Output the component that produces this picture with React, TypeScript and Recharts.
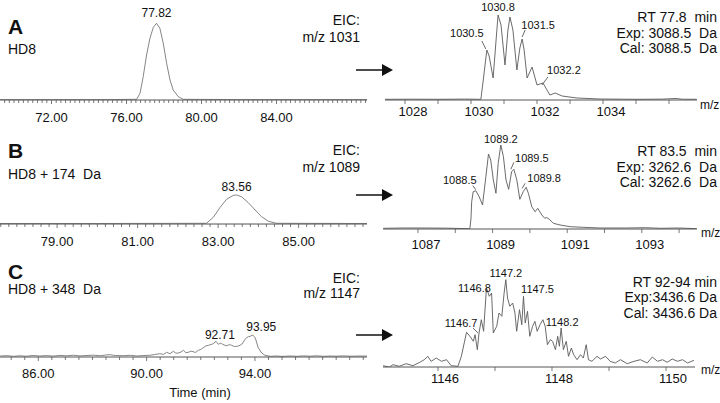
import React from 'react'
import { LineChart, Line, XAxis, YAxis, ReferenceDot } from 'recharts'

type Pt = [number, number]

// extracted ion chromatograms: [time (min), intensity]
const eicA: Pt[] = [
  [69.25, 0.4], [72.0, 0.4], [75.0, 0.4], [76.54, 0.7], [76.72, 6.7], [76.89, 23.3], [77.07, 45], [77.25, 61.7],
  [77.43, 72.7], [77.6, 76.7], [77.78, 71.7], [77.96, 56.7], [78.14, 36.7], [78.32, 20], [78.49, 10],
  [78.76, 3.3], [79.03, 0.7], [82.0, 0.4], [88.83, 0.4],
]
const eicB: Pt[] = [
  [77.58, 0.5], [80.0, 0.5], [82.71, 0.7], [82.88, 6.7], [83.05, 16.7], [83.21, 24.7], [83.38, 28.7],
  [83.46, 29], [83.58, 27.3], [83.75, 21.3], [83.92, 14], [84.08, 7.3], [84.25, 2.7], [84.45, 0.7], [86.7, 0.5],
]
const eicC: Pt[] = [
  [84.59, 1.0], [84.85, 1.3], [85.08, 0.7], [85.3, 1.2], [85.57, 0.8], [85.8, 1.5], [86.06, 1.0], [86.3, 1.4],
  [86.55, 0.9], [86.8, 1.6], [87.05, 1.2], [87.3, 1.8], [87.54, 1.1], [87.8, 1.5], [88.03, 1.8], [88.3, 1.3],
  [88.5, 2.0], [88.65, 2.3], [88.85, 1.5], [89.14, 1.3], [89.4, 1.7], [89.63, 1.0], [89.9, 1.5], [90.12, 1.7],
  [90.3, 2.5], [90.49, 3.3], [90.62, 2.6], [90.74, 4.7], [90.86, 3.3], [90.99, 5.7], [91.08, 3.8], [91.17, 4.0],
  [91.27, 5.0], [91.36, 6.7], [91.45, 4.3], [91.54, 4.7], [91.63, 5.8], [91.72, 5.3], [91.81, 4.5], [91.91, 6.7],
  [92.0, 7.5], [92.09, 9.3], [92.18, 11.0], [92.28, 11.7], [92.38, 12.5], [92.46, 13.3], [92.56, 15.7],
  [92.65, 12.7], [92.72, 13.8], [92.77, 13.3], [92.86, 12.0], [92.96, 11.3], [93.05, 12.4], [93.14, 11.7],
  [93.24, 10.5], [93.33, 10.7], [93.4, 11.2], [93.45, 11.7], [93.52, 13.0], [93.57, 15.0], [93.63, 17.5],
  [93.69, 19.3], [93.76, 20.3], [93.82, 20.7], [93.9, 21.7], [93.94, 21.5], [94.0, 19.5], [94.04, 16.7],
  [94.12, 9.3], [94.25, 4.0], [94.37, 1.7], [94.56, 0.7], [94.8, 1.0], [95.0, 0.6], [95.29, 1.0], [95.55, 0.7],
  [95.79, 1.1], [96.05, 0.8], [96.28, 1.2], [96.55, 0.7], [96.77, 1.0], [97.0, 0.8], [97.26, 1.1], [97.55, 0.8],
  [97.88, 1.0], [98.14, 0.9],
]

// mass spectra: [m/z, intensity]
const msA: Pt[] = [
  [1027.39, 0.7], [1028.2, 0.8], [1029.06, 0.7], [1029.8, 0.9], [1030.3, 0.7], [1030.39, 25], [1030.48, 50],
  [1030.55, 44], [1030.67, 22], [1030.76, 60], [1030.82, 85], [1030.91, 75], [1031.03, 35], [1031.12, 70],
  [1031.18, 83], [1031.27, 70], [1031.39, 30], [1031.48, 52], [1031.55, 61], [1031.61, 50], [1031.7, 22],
  [1031.85, 33], [1032.0, 15], [1032.18, 17], [1032.39, 5], [1032.55, 7], [1032.76, 4], [1033.21, 2],
  [1033.91, 1], [1034.6, 0.8], [1035.12, 0.7], [1035.8, 0.9], [1036.21, 1.5], [1036.4, 0.8], [1036.84, 0.7],
]
const msB: Pt[] = [
  [1086.07, 0.7], [1086.6, 1.0], [1087.23, 1.0], [1087.8, 0.8], [1088.39, 0.3], [1088.42, 10], [1088.44, 27.3],
  [1088.48, 37.3], [1088.55, 38.3], [1088.64, 32.3], [1088.73, 24], [1088.82, 52.3], [1088.89, 75],
  [1088.95, 69], [1089.02, 49], [1089.09, 35.7], [1089.15, 65.7], [1089.22, 84], [1089.29, 72.3],
  [1089.36, 49], [1089.43, 39.7], [1089.51, 57.3], [1089.57, 59.7], [1089.65, 49], [1089.73, 29.7],
  [1089.82, 37.3], [1089.9, 41.7], [1089.96, 35.7], [1090.05, 22.3], [1090.14, 17.3], [1090.21, 20.7],
  [1090.32, 14], [1090.4, 10.7], [1090.45, 11.5], [1090.52, 9.7], [1090.63, 5.7], [1090.81, 4], [1091.08, 2.3],
  [1091.43, 1.7], [1091.88, 1], [1092.6, 1], [1093.1, 1.3], [1093.49, 0.7], [1094.0, 1.0], [1094.47, 0.3],
]
const msC: Pt[] = [
  [1145.03, 1.3], [1145.15, 0], [1145.21, 2.3], [1145.32, 0.7], [1145.44, 3.3], [1145.56, 1.3], [1145.68, 4.7],
  [1145.76, 7.3], [1145.82, 10.7], [1145.88, 5.7], [1145.97, 9], [1146.06, 5.7], [1146.15, 7.3], [1146.23, 1.3],
  [1146.35, 0.7], [1146.41, 10.7], [1146.5, 34.7], [1146.56, 30.7], [1146.62, 25.7], [1146.65, 32.3],
  [1146.69, 17.3], [1146.72, 34], [1146.76, 47.3], [1146.8, 35.7], [1146.85, 79], [1146.9, 70.7], [1146.94, 74],
  [1146.97, 34], [1147.03, 40.7], [1147.07, 54], [1147.12, 50.7], [1147.16, 74], [1147.19, 87.3], [1147.22, 69],
  [1147.26, 60.7], [1147.31, 64], [1147.35, 54], [1147.38, 35.7], [1147.43, 57.3], [1147.47, 42.3],
  [1147.5, 70.7], [1147.53, 44], [1147.57, 55.7], [1147.61, 30.7], [1147.66, 40.7], [1147.7, 45.7],
  [1147.74, 35.7], [1147.79, 42.3], [1147.84, 47.3], [1147.88, 40.7], [1147.92, 22.3], [1147.97, 27.3],
  [1148.01, 25.7], [1148.06, 17.3], [1148.1, 30.7], [1148.13, 20.7], [1148.16, 39], [1148.2, 17.3],
  [1148.25, 25.7], [1148.29, 10.7], [1148.34, 19], [1148.38, 12.3], [1148.44, 7.3], [1148.5, 12.3],
  [1148.55, 9], [1148.6, 22.3], [1148.64, 7.3], [1148.7, 5.7], [1148.79, 10.7], [1148.85, 8], [1148.94, 10.7],
  [1149.02, 5.7], [1149.11, 4], [1149.2, 7.3], [1149.32, 3.3], [1149.44, 5.7], [1149.55, 7.3], [1149.67, 4],
  [1149.76, 10], [1149.85, 5.7], [1149.94, 7.3], [1150.02, 4.7], [1150.11, 8], [1150.2, 5.7], [1150.29, 7.3],
  [1150.38, 4], [1150.49, 6.7],
]

// axis tick labels
const timeLabelsA = [72, 76, 80, 84]
const timeLabelsB = [79, 81, 83, 85]
const timeLabelsC = [86, 90, 94]
const mzLabelsA = [1028, 1030, 1032, 1034]
const mzLabelsB = [1087, 1089, 1091, 1093]
const mzLabelsC = [1146, 1148, 1150]

// peak annotations (anchored at data points)
type Peak = { x: number; y: number; text: string }
const eicPeaksA: Peak[] = [{ x: 77.6, y: 76.7, text: '77.82' }]
const eicPeaksB: Peak[] = [{ x: 83.46, y: 29, text: '83.56' }]
const eicPeaksC: Peak[] = [
  { x: 92.56, y: 15.7, text: '92.71' },
  { x: 93.9, y: 21.7, text: '93.95' },
]
const msPeaksA: Peak[] = [
  { x: 1030.82, y: 85, text: '1030.8' },
  { x: 1030.48, y: 50, text: '1030.5' },
  { x: 1031.55, y: 61, text: '1031.5' },
  { x: 1032.18, y: 17, text: '1032.2' },
]
const msPeaksB: Peak[] = [
  { x: 1089.22, y: 84, text: '1089.2' },
  { x: 1088.55, y: 38.3, text: '1088.5' },
  { x: 1089.57, y: 59.7, text: '1089.5' },
  { x: 1089.9, y: 41.7, text: '1089.8' },
]
const msPeaksC: Peak[] = [
  { x: 1147.19, y: 87.3, text: '1147.2' },
  { x: 1146.85, y: 79, text: '1146.8' },
  { x: 1147.5, y: 70.7, text: '1147.5' },
  { x: 1146.72, y: 34, text: '1146.7' },
  { x: 1148.16, y: 39, text: '1148.2' },
]

// label placement relative to the anchor: [dx, dy, leader?]
type Place = { dx: number; dy: number; lead?: [number, number, number, number] }
const eicPlaceA: Place[] = [{ dx: 0, dy: -6 }]
const eicPlaceB: Place[] = [{ dx: 0, dy: -4 }]
const eicPlaceC: Place[] = [{ dx: 4, dy: -2 }, { dx: 9, dy: -4 }]
const msPlaceA: Place[] = [
  { dx: 0, dy: -4 },
  { dx: -20, dy: -13, lead: [-5, -9, -1, -1] },
  { dx: 16, dy: -10, lead: [3, -9, 0, -2] },
  { dx: 21, dy: -9, lead: [5, -6, -1, 2] },
]
const msPlaceB: Place[] = [
  { dx: 0, dy: -2 },
  { dx: -16, dy: -7, lead: [-3, -5, 0, -1] },
  { dx: 18, dy: -7.5, lead: [0, -7, -3, 0] },
  { dx: 18, dy: -5.5, lead: [-1, -4, -4, 1] },
]
const msPlaceC: Place[] = [
  { dx: 0, dy: -3 },
  { dx: -12, dy: 4 },
  { dx: 14, dy: -3 },
  { dx: -18, dy: -6, lead: [-6, -5, -1, 0] },
  { dx: 1, dy: -2.5 },
]

const FONT = '"Liberation Sans", Arial, Helvetica, sans-serif'

interface PanelCfg {
  left: number
  top: number
  width: number
  plotH: number
  domain: [number, number]
  step: number
  labels: number[]
  digits: number
  labelDx: number
  labelDy: number
  majorLen: number
  minorLen: number
  peakFont: number
  stroke: string
}

function Panel({ cfg, data, peaks, place }: { cfg: PanelCfg; data: Pt[]; peaks: Peak[]; place: Place[] }) {
  const rows = data.map(([x, y]) => ({ x, y }))
  const ticks: number[] = []
  for (let v = Math.ceil(cfg.domain[0] / cfg.step) * cfg.step; v <= cfg.domain[1] + 1e-9; v += cfg.step) {
    ticks.push(Math.round(v * 1000) / 1000)
  }
  const renderTick = (p: any) => {
    const v = p.payload.value
    const major = cfg.labels.some((l) => Math.abs(l - v) < 1e-6)
    return (
      <g>
        <line x1={p.x} x2={p.x} y1={p.y} y2={p.y + (major ? cfg.majorLen : cfg.minorLen)} stroke="#555" strokeWidth={0.8} />
        {major && (
          <text x={p.x + cfg.labelDx} y={p.y + cfg.labelDy} textAnchor="middle" fontSize={13} fill="#111" fontFamily={FONT}>
            {v.toFixed(cfg.digits)}
          </text>
        )}
      </g>
    )
  }
  return (
    <div style={{ position: 'absolute', left: cfg.left, top: cfg.top }}>
      <LineChart width={cfg.width} height={cfg.plotH + 30} data={rows} margin={{ top: 0, right: 0, bottom: 0, left: 0 }}>
        <XAxis
          dataKey="x"
          type="number"
          domain={cfg.domain}
          allowDataOverflow
          ticks={ticks}
          interval={0}
          tick={renderTick}
          tickLine={false}
          tickSize={0}
          tickMargin={0}
          height={30}
          axisLine={{ stroke: '#555', strokeWidth: 1 }}
        />
        <YAxis hide type="number" domain={[0, cfg.plotH]} allowDataOverflow />
        <Line type="linear" dataKey="y" stroke={cfg.stroke} strokeWidth={0.9} dot={false} isAnimationActive={false} />
        {peaks.map((pk, i) => {
          const st = place[i]
          return (
            <ReferenceDot
              key={i}
              x={pk.x}
              y={pk.y}
              r={0}
              shape={(p: any) => (
                <g>
                  {st.lead && (
                    <line
                      x1={p.cx + st.lead[0]}
                      y1={p.cy + st.lead[1]}
                      x2={p.cx + st.lead[2]}
                      y2={p.cy + st.lead[3]}
                      stroke="#444"
                      strokeWidth={0.8}
                    />
                  )}
                  <text x={p.cx + st.dx} y={p.cy + st.dy} textAnchor="middle" fontSize={cfg.peakFont} fill="#111" fontFamily={FONT}>
                    {pk.text}
                  </text>
                </g>
              )}
            />
          )
        })}
      </LineChart>
    </div>
  )
}

const leftA: PanelCfg = { left: 0, top: 0, width: 367, plotH: 100, domain: [69.253, 88.827], step: 0.25, labels: timeLabelsA, digits: 2, labelDx: 0, labelDy: 21.5, majorLen: 4, minorLen: 3, peakFont: 12, stroke: '#777' }
const leftB: PanelCfg = { left: 0, top: 130, width: 367, plotH: 94, domain: [77.581, 86.699], step: 0.2, labels: timeLabelsB, digits: 2, labelDx: 0, labelDy: 21.5, majorLen: 4, minorLen: 3, peakFont: 12, stroke: '#777' }
const leftC: PanelCfg = { left: 0, top: 260, width: 367, plotH: 97, domain: [84.586, 98.138], step: 0.5, labels: timeLabelsC, digits: 2, labelDx: 0, labelDy: 20.5, majorLen: 4, minorLen: 3, peakFont: 12, stroke: '#777' }
const rightA: PanelCfg = { left: 385, top: 0, width: 312, plotH: 100, domain: [1027.394, 1036.848], step: 1, labels: mzLabelsA, digits: 0, labelDx: 8, labelDy: 16, majorLen: 4, minorLen: 4, peakFont: 11, stroke: '#5a5a5a' }
const rightB: PanelCfg = { left: 383, top: 130, width: 314, plotH: 99, domain: [1086.062, 1094.48], step: 1, labels: mzLabelsB, digits: 0, labelDx: 8, labelDy: 19.5, majorLen: 4, minorLen: 4, peakFont: 11, stroke: '#5a5a5a' }
const rightC: PanelCfg = { left: 383, top: 260, width: 312, plotH: 107, domain: [1145.035, 1150.509], step: 1, labels: mzLabelsC, digits: 0, labelDx: 7, labelDy: 16, majorLen: 4, minorLen: 4, peakFont: 11, stroke: '#5a5a5a' }

type Txt = { text: string; x: number; y: number; align: 'left' | 'right' | 'center'; size: number; bold?: boolean }
const texts: Txt[] = [
  { text: 'A', x: 8, y: 26, align: 'left', size: 21, bold: true },
  { text: 'HD8', x: 8, y: 49, align: 'left', size: 14 },
  { text: 'B', x: 8, y: 150, align: 'left', size: 21, bold: true },
  { text: 'HD8 + 174  Da', x: 8, y: 174, align: 'left', size: 14 },
  { text: 'C', x: 8, y: 271, align: 'left', size: 21, bold: true },
  { text: 'HD8 + 348  Da', x: 8, y: 289, align: 'left', size: 14 },
  { text: 'EIC:', x: 360, y: 20, align: 'right', size: 14 },
  { text: 'm/z 1031', x: 360, y: 37, align: 'right', size: 14 },
  { text: 'EIC:', x: 360, y: 150, align: 'right', size: 14 },
  { text: 'm/z 1089', x: 360, y: 167, align: 'right', size: 14 },
  { text: 'EIC:', x: 360, y: 278, align: 'right', size: 14 },
  { text: 'm/z 1147', x: 360, y: 293, align: 'right', size: 14 },
  { text: 'RT 77.8  min', x: 717, y: 17, align: 'right', size: 14 },
  { text: 'Exp: 3088.5  Da', x: 717, y: 33, align: 'right', size: 14 },
  { text: 'Cal: 3088.5  Da', x: 717, y: 48, align: 'right', size: 14 },
  { text: 'RT 83.5  min', x: 717, y: 151, align: 'right', size: 14 },
  { text: 'Exp: 3262.6  Da', x: 717, y: 167, align: 'right', size: 14 },
  { text: 'Cal: 3262.6  Da', x: 717, y: 182, align: 'right', size: 14 },
  { text: 'RT 92-94 min', x: 717, y: 282, align: 'right', size: 14 },
  { text: 'Exp:3436.6 Da', x: 717, y: 297, align: 'right', size: 14 },
  { text: 'Cal: 3436.6 Da', x: 717, y: 313, align: 'right', size: 14 },
  { text: 'm/z', x: 700, y: 105, align: 'left', size: 12 },
  { text: 'm/z', x: 701, y: 233, align: 'left', size: 12 },
  { text: 'm/z', x: 701, y: 370, align: 'left', size: 12 },
  { text: 'Time (min)', x: 200, y: 393, align: 'center', size: 13 },
]

const arrowsY = [70, 195, 335]

function Label({ t }: { t: Txt }) {
  const style: React.CSSProperties = {
    position: 'absolute',
    top: t.y - t.size * 0.59,
    fontSize: t.size,
    lineHeight: `${t.size * 1.2}px`,
    fontWeight: t.bold ? 700 : 400,
    whiteSpace: 'pre',
    color: '#111',
  }
  if (t.align === 'left') style.left = t.x
  else if (t.align === 'right') style.right = 720 - t.x
  else {
    style.left = t.x - 60
    style.width = 120
    style.textAlign = 'center'
  }
  return <div style={style}>{t.text}</div>
}

export default function App() {
  return (
    <div style={{ position: 'absolute', left: 0, top: 0, width: 720, height: 403, background: '#fff', fontFamily: FONT, overflow: 'hidden' }}>
      <Panel cfg={leftA} data={eicA} peaks={eicPeaksA} place={eicPlaceA} />
      <Panel cfg={leftB} data={eicB} peaks={eicPeaksB} place={eicPlaceB} />
      <Panel cfg={leftC} data={eicC} peaks={eicPeaksC} place={eicPlaceC} />
      <Panel cfg={rightA} data={msA} peaks={msPeaksA} place={msPlaceA} />
      <Panel cfg={rightB} data={msB} peaks={msPeaksB} place={msPlaceB} />
      <Panel cfg={rightC} data={msC} peaks={msPeaksC} place={msPlaceC} />
      {texts.map((t, i) => (
        <Label key={i} t={t} />
      ))}
      <svg width={720} height={403} style={{ position: 'absolute', left: 0, top: 0, pointerEvents: 'none' }}>
        {arrowsY.map((y) => (
          <g key={y}>
            <line x1={356} y1={y} x2={384} y2={y} stroke="#111" strokeWidth={1.5} />
            <polygon points={`${382},${y - 6} ${393},${y} ${382},${y + 6}`} fill="#111" />
          </g>
        ))}
      </svg>
    </div>
  )
}
